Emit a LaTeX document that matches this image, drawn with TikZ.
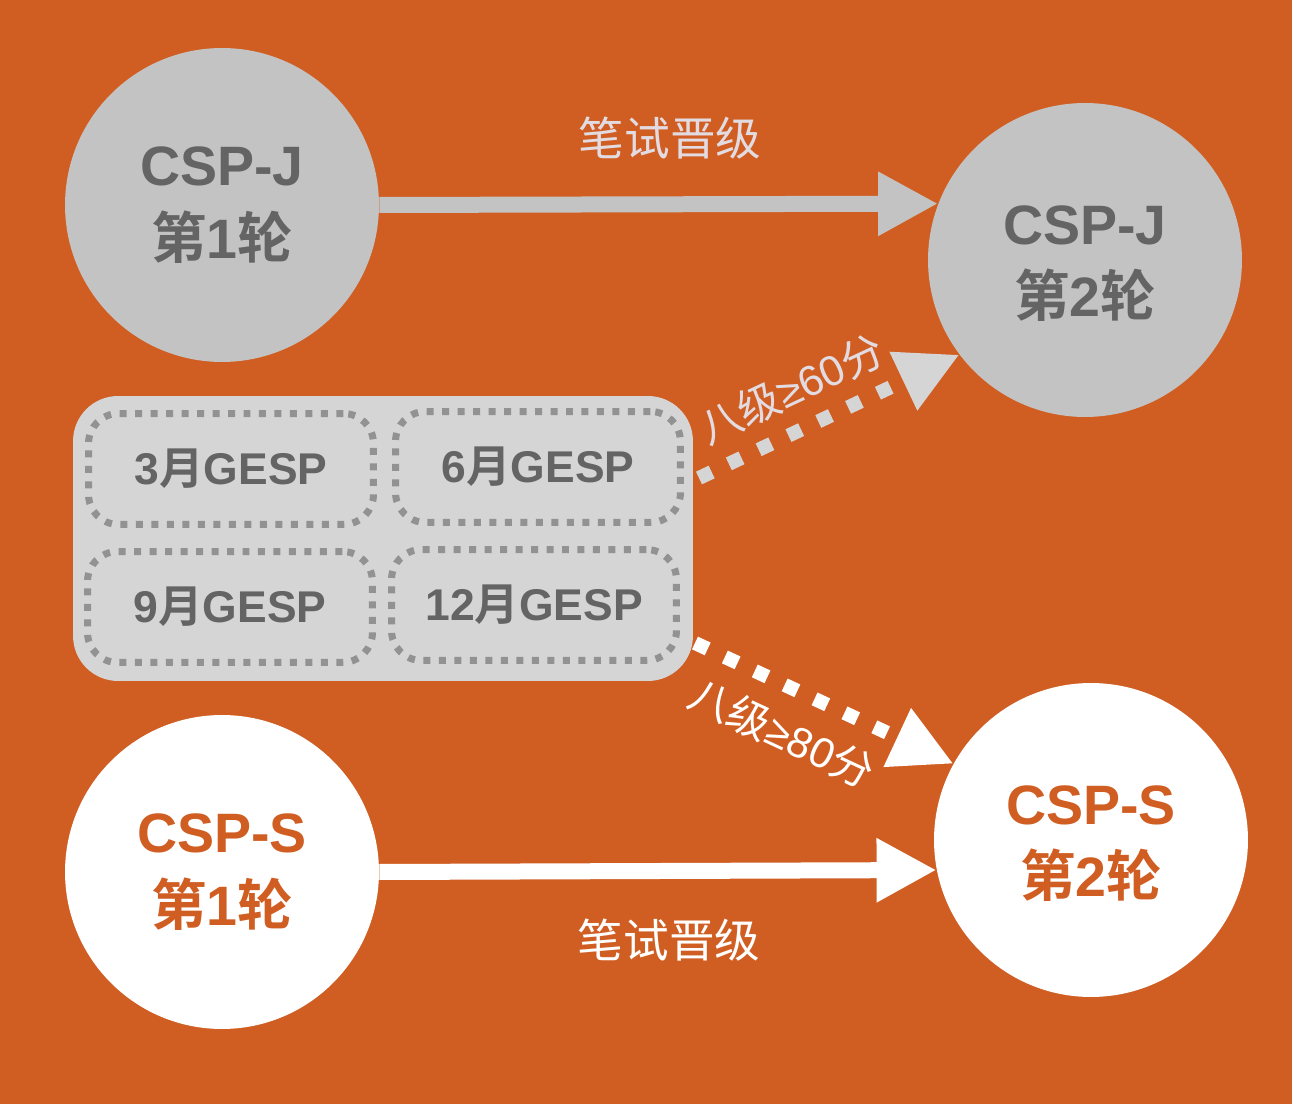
\documentclass[tikz,border=0pt]{standalone}
\usepackage{fontspec}
\setmainfont{Liberation Sans}
\newfontfamily\cjk{Noto Sans CJK SC}[BoldFont={Noto Sans CJK SC Bold}]
\usetikzlibrary{arrows.meta}
\definecolor{bg}{HTML}{D05E22}
\definecolor{cgray}{HTML}{C3C3C3}
\definecolor{tgray}{HTML}{646464}
\definecolor{boxgray}{HTML}{D5D5D5}
\definecolor{dotgray}{HTML}{929292}
\definecolor{lab}{HTML}{E2DCE2}
\newcommand{\lowtxt}[2]{\raisebox{-0.12cm}[\height][\depth]{\begin{tabular}{@{}c@{}}#1\\#2\end{tabular}}}
\begin{document}
\begin{tikzpicture}[x=0.02cm,y=-0.02cm,
  circ/.style={circle,minimum size=6.28cm,inner sep=0pt,align=center,font=\bfseries\fontsize{31.6}{41.4}\selectfont},
  jc/.style={circ,fill=cgray,text=tgray},
  sc/.style={circ,fill=white,text=bg},
  gbox/.style={draw=dotgray,line width=0.14cm,dash pattern=on 0.14cm off 0.17cm,rounded corners=0.6cm,minimum width=5.7cm,minimum height=2.22cm,inner sep=0pt,text=tgray,font=\bfseries\fontsize{25.3}{30}\selectfont},
  solidarrow/.style={line width=0.32cm,-{Triangle[length=1.2cm,width=1.2cm]}},
  dotarrow/.style={line width=0.28cm,dash pattern=on 0.28cm off 0.38cm,-{Triangle[length=1.24cm,width=1.22cm]}},
  lbl/.style={font=\cjk\fontsize{26}{30}\selectfont,inner sep=0pt},
  rlbl/.style={font=\fontsize{24.2}{28}\selectfont,inner sep=0pt}
]
\useasboundingbox (0,0) rectangle (1292,1104);
\fill[bg] (0,0) rectangle (1292,1104);

\node[jc] (j1) at (222,205) {CSP-J\\{\cjk 第}1{\cjk 轮}};
\node[jc] (j2) at (1085,260) {\lowtxt{CSP-J}{{\cjk 第}2{\cjk 轮}}};
\node[sc] (s1) at (222,872) {CSP-S\\{\cjk 第}1{\cjk 轮}};
\node[sc] (s2) at (1091,840) {\lowtxt{CSP-S}{{\cjk 第}2{\cjk 轮}}};

\node[fill=boxgray,rounded corners=0.9cm,minimum width=12.4cm,minimum height=5.7cm,inner sep=0pt] (gesp) at (383,538.5) {};
\node[gbox] (g3) at (231,469) {3{\cjk 月}GESP};
\node[gbox] (g6) at (538,467) {6{\cjk 月}GESP};
\node[gbox] (g9) at (230,607) {9{\cjk 月}GESP};
\node[gbox] (g12) at (534,605) {12{\cjk 月}GESP};

\draw[solidarrow,cgray] (j1.east) -- (j2.159.5);
\draw[solidarrow,white] (s1.east) -- (s2.191.8);
\coordinate (d1) at (699,478);
\coordinate (d2) at (695,643);
\draw[dotarrow,boxgray] (d1) -- (j2.217.4);
\draw[dotarrow,white] (d2) -- (s2.151.3);

\node[lbl,text=lab] (l1) at (670,138) {笔试晋级};
\node[lbl,text=white] (l2) at (669,940) {笔试晋级};
\node[rlbl,text=lab,rotate=25] (l3) at (791,389) {{\cjk 八级}≥60{\cjk 分}};
\node[rlbl,text=white,rotate=-25] (l4) at (782,733) {{\cjk 八级}≥80{\cjk 分}};
\end{tikzpicture}
\end{document}
